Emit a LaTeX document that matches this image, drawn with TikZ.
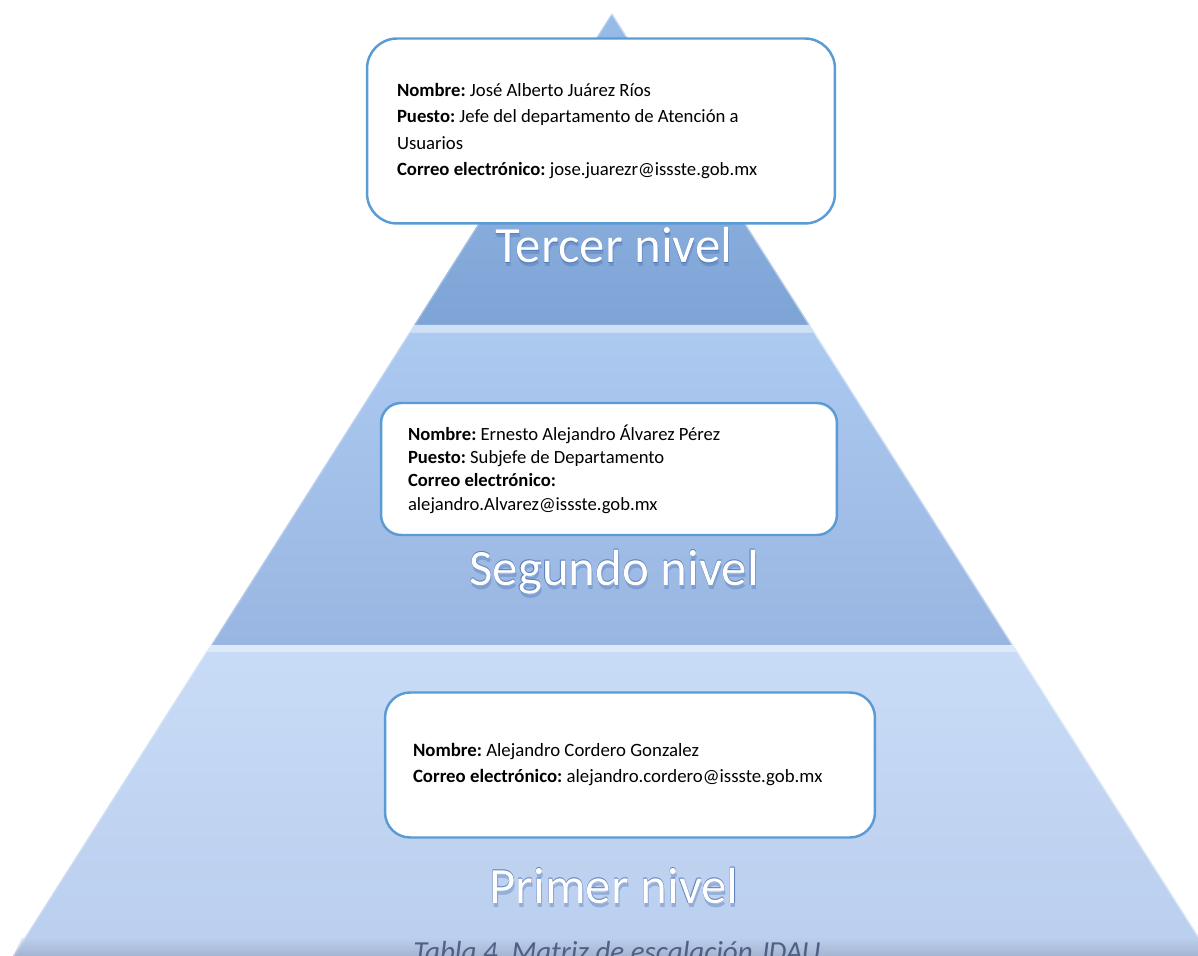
\documentclass[tikz,border=0pt]{standalone}
\usepackage{fontspec}
\setmainfont{Carlito}
\usepackage{tikz}
\usetikzlibrary{calc, positioning}
\definecolor{boxline}{RGB}{91,155,213}
\definecolor{lvlthreetop}{RGB}{152,188,232}
\definecolor{lvlthreebot}{RGB}{126,164,214}
\definecolor{lvltwotop}{RGB}{172,201,240}
\definecolor{lvltwobot}{RGB}{152,182,225}
\definecolor{lvlonetop}{RGB}{200,219,246}
\definecolor{lvlonebot}{RGB}{186,206,238}
\definecolor{bevel}{RGB}{206,224,246}
\definecolor{glowblue}{RGB}{70,110,175}
\definecolor{captgray}{RGB}{78,96,132}
\tikzset{
  infobox/.style={draw=boxline, line width=1.4pt, fill=white, align=flush left},
  lvltext/.style={font=\fontsize{29}{30}\selectfont, text=white, anchor=base},
  lvlglow/.style={font=\fontsize{29}{30}\selectfont, text=glowblue, opacity=0.35, anchor=base},
  captext/.style={font=\fontsize{16.5}{18}\selectfont\itshape, text=captgray, anchor=base}
}
\frenchspacing

\begin{document}
\begin{tikzpicture}[x=0.02cm, y=-0.02cm]
\useasboundingbox (0,0) rectangle (1198,956);
\clip (0,0) rectangle (1198,956);

% pyramid levels
\shade[top color=lvlthreetop, bottom color=lvlthreebot] (612,13) -- (810,325) -- (414,325) -- cycle;
\fill[bevel] (414,325) -- (810,325) -- (815,333) -- (409,333) -- cycle;
\shade[top color=lvltwotop, bottom color=lvltwobot] (409,333) -- (815,333) -- (1013,645) -- (211,645) -- cycle;
\fill[bevel!70!white] (211,645) -- (1013,645) -- (1018,652) -- (206,652) -- cycle;
\shade[top color=lvlonetop, bottom color=lvlonebot] (206,652) -- (1018,652) -- (1211,956) -- (13,956) -- cycle;
\shade[top color=lvlonebot, bottom color=lvlonebot!80!black, opacity=0.6] (22,938) -- (1200,938) -- (1211,956) -- (13,956) -- cycle;

% light edges
\draw[white, opacity=0.45, line width=1.5pt] (612,13) -- (810,325) (815,333) -- (1013,645) (1018,652) -- (1211,956);
\draw[white, opacity=0.25, line width=1.5pt] (612,13) -- (414,325) (409,333) -- (211,645) (206,652) -- (13,956);

% level labels
\foreach \nm/\yy/\txt in {lblTercer/263/Tercer nivel, lblSegundo/585/Segundo nivel, lblPrimer/903/Primer nivel} {
  \foreach \a in {0,45,...,315} {
    \node[lvlglow, shift={(\a:0.05)}] (\nm glow\a) at (614,\yy) {\txt};
  }
  \node[lvlglow, opacity=0.35] (\nm shadow) at (615,\yy+4) {\txt};
  \node[lvltext] (\nm) at (614,\yy) {\txt};
}

% contact boxes
\node[infobox, rounded corners=0.6cm, minimum width=9.36cm, minimum height=3.7cm,
      inner xsep=0.6cm, text width=8.16cm, font=\fontsize{10.65}{15}\selectfont]
  (tercer) at (601,131) {%
  \textbf{Nombre:} José Alberto Juárez Ríos\\
  \textbf{Puesto:} Jefe del departamento de Atención a\\
  Usuarios\\
  \textbf{Correo electrónico:} jose.juarezr@issste.gob.mx};

\node[infobox, rounded corners=0.4cm, minimum width=9.12cm, minimum height=2.64cm,
      inner xsep=0.54cm, text width=8.04cm, font=\fontsize{10.6}{13.3}\selectfont]
  (segundo) at (609,469) {%
  \textbf{Nombre:} Ernesto Alejandro Álvarez Pérez\\
  \textbf{Puesto:} Subjefe de Departamento\\
  \textbf{Correo electrónico:}\\
  alejandro.Alvarez@issste.gob.mx};

\node[infobox, rounded corners=0.5cm, minimum width=9.8cm, minimum height=2.9cm,
      inner xsep=0.56cm, text width=8.68cm, font=\fontsize{10.7}{14.8}\selectfont]
  (primer) at (630,765) {%
  \textbf{Nombre:} Alejandro Cordero Gonzalez\\
  \textbf{Correo electrónico:} alejandro.cordero@issste.gob.mx};

% caption (cut at the bottom)
\node[captext] (capt) at (617,961) {Tabla 4. Matriz de escalación JDAU};
\end{tikzpicture}
\end{document}
